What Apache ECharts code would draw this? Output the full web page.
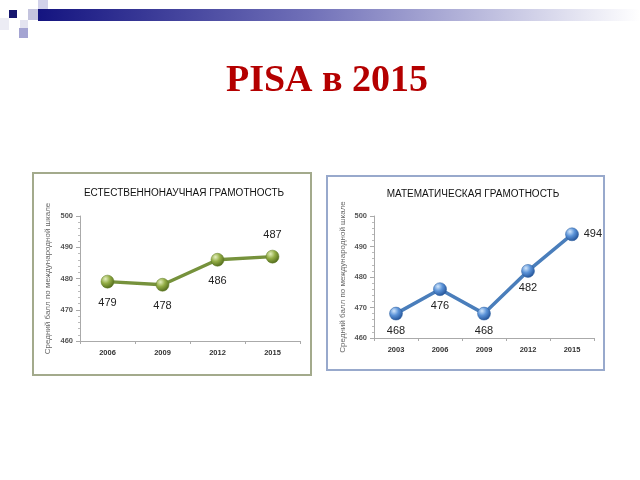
<!DOCTYPE html>
<html>
<head>
<meta charset="utf-8">
<script src="https://cdn.jsdelivr.net/npm/echarts@6/dist/echarts.min.js"></script>
<style>
  html, body { margin: 0; padding: 0; background: #fff; }
  #main { width: 640px; height: 480px; }
</style>
</head>
<body>
<div id="main"></div>
<script>
// данные PISA
const sciYears = ['2006', '2009', '2012', '2015']
const sciScores = [479, 478, 486, 487]
const mathYears = ['2003', '2006', '2009', '2012', '2015']
const mathScores = [468, 476, 468, 482, 494]
const yTicks = [460, 470, 480, 490, 500]

const axisFont = "'Liberation Sans Narrow', 'Liberation Sans', Arial"
const yName = 'Средний балл по международной шкале'

// позиции подписей точек
const sciLabelPos = ['bottom', 'bottom', 'bottom', 'top']
const mathLabelPos = ['bottom', 'bottom', 'bottom', 'bottom', 'right']

function ball (light, mid, dark) {
  return new echarts.graphic.RadialGradient(0.35, 0.3, 0.75, [
    { offset: 0, color: light },
    { offset: 0.45, color: mid },
    { offset: 1, color: dark }
  ])
}

function pointData (values, positions) {
  return values.map((v, i) => ({
    value: v,
    label: { position: positions[i] }
  }))
}

function yAxisOpt (gridIndex, gap) {
  return {
    type: 'value',
    gridIndex: gridIndex,
    min: yTicks[0],
    max: yTicks[yTicks.length - 1],
    interval: 10,
    name: yName,
    nameLocation: 'middle',
    nameRotate: 90,
    nameGap: gap,
    nameTextStyle: { fontSize: 8, color: '#666', fontFamily: 'Liberation Sans, Arial' },
    axisLine: { show: true, lineStyle: { color: '#aaa' } },
    axisTick: { show: true, length: 4, lineStyle: { color: '#aaa' } },
    minorTick: { show: true, splitNumber: 5, length: 2, lineStyle: { color: '#bbb' } },
    splitLine: { show: false },
    axisLabel: { fontSize: 7.5, fontWeight: 'bold', color: '#555', fontFamily: axisFont, margin: 7 }
  }
}

function xAxisOpt (gridIndex, data) {
  return {
    type: 'category',
    gridIndex: gridIndex,
    data: data,
    boundaryGap: true,
    axisLine: { lineStyle: { color: '#aaa' } },
    axisTick: { show: true, length: 3, lineStyle: { color: '#aaa' } },
    axisLabel: { fontSize: 7.5, fontWeight: 'bold', color: '#333', fontFamily: axisFont, margin: 8 }
  }
}

const myChart = echarts.init(document.getElementById('main'), null, { renderer: 'canvas' })

myChart.setOption({
  backgroundColor: '#fff',
  animation: false,
  title: [
    {
      text: 'PISA в 2015',
      left: 322,
      textAlign: 'center',
      top: 57,
      textStyle: { fontFamily: "'Liberation Serif', 'Times New Roman', serif", fontSize: 38, fontWeight: 'bold', color: '#b40000' }
    },
    {
      text: 'ЕСТЕСТВЕННОНАУЧНАЯ ГРАМОТНОСТЬ',
      left: 179,
      textAlign: 'center',
      top: 183,
      textStyle: { fontFamily: 'Liberation Sans, Arial', fontSize: 10, fontWeight: 'normal', color: '#111' }
    },
    {
      text: 'МАТЕМАТИЧЕСКАЯ ГРАМОТНОСТЬ',
      left: 468,
      textAlign: 'center',
      top: 184,
      textStyle: { fontFamily: 'Liberation Sans, Arial', fontSize: 10, fontWeight: 'normal', color: '#111' }
    }
  ],
  graphic: [
    // полоса сверху
    {
      type: 'rect',
      shape: { x: 38, y: 9, width: 602, height: 12 },
      style: {
        fill: new echarts.graphic.LinearGradient(0, 0, 1, 0, [
          { offset: 0, color: '#141480' },
          { offset: 0.45, color: '#7070b8' },
          { offset: 1, color: '#ffffff' }
        ])
      }
    },
    { type: 'rect', shape: { x: 9, y: 10, width: 8, height: 8 }, style: { fill: '#16166e' } },
    { type: 'rect', shape: { x: 28, y: 9, width: 10, height: 11 }, style: { fill: '#c4c4de' } },
    { type: 'rect', shape: { x: 38, y: 0, width: 10, height: 9 }, style: { fill: '#d2d2ea' } },
    { type: 'rect', shape: { x: 20, y: 20, width: 8, height: 8 }, style: { fill: '#e4e4f0' } },
    { type: 'rect', shape: { x: 19, y: 28, width: 9, height: 10 }, style: { fill: '#a4a4d2' } },
    { type: 'rect', shape: { x: 0, y: 18, width: 9, height: 12 }, style: { fill: '#ececf4' } },
    // рамки диаграмм
    {
      type: 'rect',
      shape: { x: 33, y: 173, width: 278, height: 202 },
      style: { fill: 'none', stroke: '#a3aa8c', lineWidth: 2 }
    },
    {
      type: 'rect',
      shape: { x: 327, y: 176, width: 277, height: 194 },
      style: { fill: 'none', stroke: '#98a9cc', lineWidth: 2 }
    }
  ],
  grid: [
    { left: 80, right: 340, top: 216, bottom: 139 },
    { left: 374, right: 46, top: 216, bottom: 142 }
  ],
  xAxis: [xAxisOpt(0, sciYears), xAxisOpt(1, mathYears)],
  yAxis: [yAxisOpt(0, 28), yAxisOpt(1, 27)],
  series: [
    {
      type: 'line',
      xAxisIndex: 0,
      yAxisIndex: 0,
      data: pointData(sciScores, sciLabelPos),
      symbol: 'circle',
      symbolSize: 13,
      lineStyle: { color: '#76923c', width: 3.5 },
      itemStyle: { color: ball('#e4efbf', '#93ad45', '#4d6619'), borderColor: '#5f7a25', borderWidth: 0.5 },
      label: { show: true, fontSize: 11, color: '#222', fontFamily: 'Liberation Sans, Arial', distance: 9 }
    },
    {
      type: 'line',
      xAxisIndex: 1,
      yAxisIndex: 1,
      data: pointData(mathScores, mathLabelPos),
      symbol: 'circle',
      symbolSize: 13,
      lineStyle: { color: '#4a7ebb', width: 3.5 },
      itemStyle: { color: ball('#d2e6fb', '#5b93d8', '#1f4e93'), borderColor: '#2d5f9e', borderWidth: 0.5 },
      label: { show: true, fontSize: 11, color: '#222', fontFamily: 'Liberation Sans, Arial', distance: 5 }
    }
  ]
})
</script>
</body>
</html>
